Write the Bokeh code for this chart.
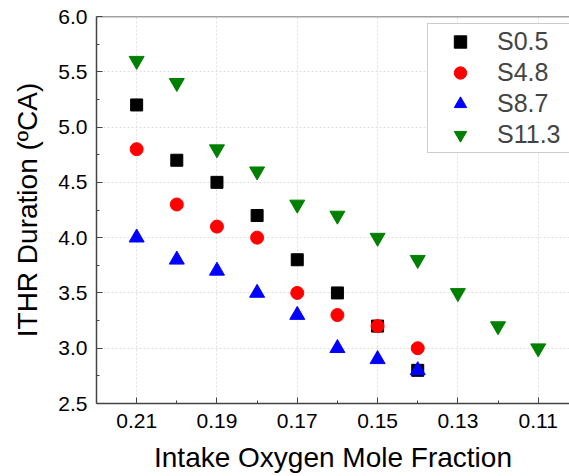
from bokeh.plotting import figure
from bokeh.models import Range1d, FixedTicker, Span, Legend, LegendItem, PrintfTickFormatter
from bokeh.embed import file_html
from bokeh.resources import INLINE

# Data
x_s05 = [0.21, 0.20, 0.19, 0.18, 0.17, 0.16, 0.15, 0.14]
y_s05 = [5.2, 4.7, 4.5, 4.2, 3.8, 3.5, 3.2, 2.8]
x_s48 = [0.21, 0.20, 0.19, 0.18, 0.17, 0.16, 0.15, 0.14]
y_s48 = [4.8, 4.3, 4.1, 4.0, 3.5, 3.3, 3.2, 3.0]
x_s87 = [0.21, 0.20, 0.19, 0.18, 0.17, 0.16, 0.15, 0.14]
y_s87 = [4.0, 3.8, 3.7, 3.5, 3.3, 3.0, 2.9, 2.8]
x_s113 = [0.21, 0.20, 0.19, 0.18, 0.17, 0.16, 0.15, 0.14, 0.13, 0.12, 0.11]
y_s113 = [5.6, 5.4, 4.8, 4.6, 4.3, 4.2, 4.0, 3.8, 3.5, 3.2, 3.0]
series_names = ["S0.5", "S4.8", "S8.7", "S11.3"]
x_major = [0.21, 0.19, 0.17, 0.15, 0.13, 0.11]
x_minor = [0.22, 0.20, 0.18, 0.16, 0.14, 0.12, 0.10]
y_major = [2.5, 3.0, 3.5, 4.0, 4.5, 5.0, 5.5, 6.0]
y_minor = [2.75, 3.25, 3.75, 4.25, 4.75, 5.25, 5.75]

FONT = "Liberation Sans"
AXC = "#444444"

p = figure(width=569, height=476, output_backend="svg", toolbar_location=None,
           x_range=Range1d(0.22, 0.1022), y_range=Range1d(2.5, 6.0),
           min_border_left=96, min_border_right=0, min_border_top=16, min_border_bottom=73)
p.outline_line_color = None
p.background_fill_color = "white"
p.border_fill_color = "white"

for ax in (p.xaxis[0], p.yaxis[0]):
    ax.axis_line_color = AXC
    ax.axis_line_width = 1.5
    ax.major_tick_line_color = AXC
    ax.minor_tick_line_color = AXC
    ax.major_tick_in = 6
    ax.major_tick_out = 0
    ax.minor_tick_in = 3
    ax.minor_tick_out = 0
    ax.major_label_text_font = FONT
    ax.major_label_text_color = "black"
    ax.axis_label_text_font = FONT
    ax.axis_label_text_font_style = "normal"
    ax.axis_label_text_color = "black"

p.xaxis[0].ticker = FixedTicker(ticks=x_major, minor_ticks=x_minor)
p.yaxis[0].ticker = FixedTicker(ticks=y_major, minor_ticks=y_minor)
p.xaxis[0].formatter = PrintfTickFormatter(format="%.2f")
p.yaxis[0].formatter = PrintfTickFormatter(format="%.1f")
p.xaxis[0].major_label_text_font_size = "21px"
p.yaxis[0].major_label_text_font_size = "21px"
p.xaxis[0].major_label_standoff = 10
p.yaxis[0].major_label_standoff = 9
p.xaxis[0].axis_label = "Intake Oxygen Mole Fraction"
p.yaxis[0].axis_label = "ITHR Duration (ºCA)"
p.xaxis[0].axis_label_text_font_size = "28px"
p.yaxis[0].axis_label_text_font_size = "28px"
p.xaxis[0].axis_label_standoff = 11
p.yaxis[0].axis_label_standoff = 12

for g in (p.xgrid[0], p.ygrid[0]):
    g.grid_line_color = "#e0e0e0"
    g.grid_line_dash = "2 2"
    g.grid_line_width = 1
p.xgrid[0].ticker = FixedTicker(ticks=x_major)
p.ygrid[0].ticker = FixedTicker(ticks=y_major[1:-1])

top = Span(location=6.0, dimension="width", line_color=AXC, line_width=1.5)
p.add_layout(top)

r1 = p.scatter(x_s05, y_s05, marker="square", size=12, fill_color="black", line_color="black")
r2 = p.scatter(x_s48, y_s48, marker="circle", size=13, fill_color="red", line_color="red")
r3 = p.scatter(x_s87, y_s87, marker="triangle", size=15, fill_color="blue", line_color="blue")
r4 = p.scatter(x_s113, y_s113, marker="inverted_triangle", size=15, fill_color="green", line_color="green")

legend = Legend(items=[LegendItem(label=series_names[0], renderers=[r1]),
                       LegendItem(label=series_names[1], renderers=[r2]),
                       LegendItem(label=series_names[2], renderers=[r3]),
                       LegendItem(label=series_names[3], renderers=[r4])],
                location=(331, 250), margin=0, padding=2, spacing=0,
                glyph_width=60, glyph_height=31, label_height=31, label_width=70,
                label_standoff=7, label_text_font=FONT, label_text_font_size="25px",
                border_line_color="#999999", border_line_width=1,
                background_fill_color="white", background_fill_alpha=1.0)
p.add_layout(legend, "center")

open("out.html", "w").write(file_html(p, INLINE))
